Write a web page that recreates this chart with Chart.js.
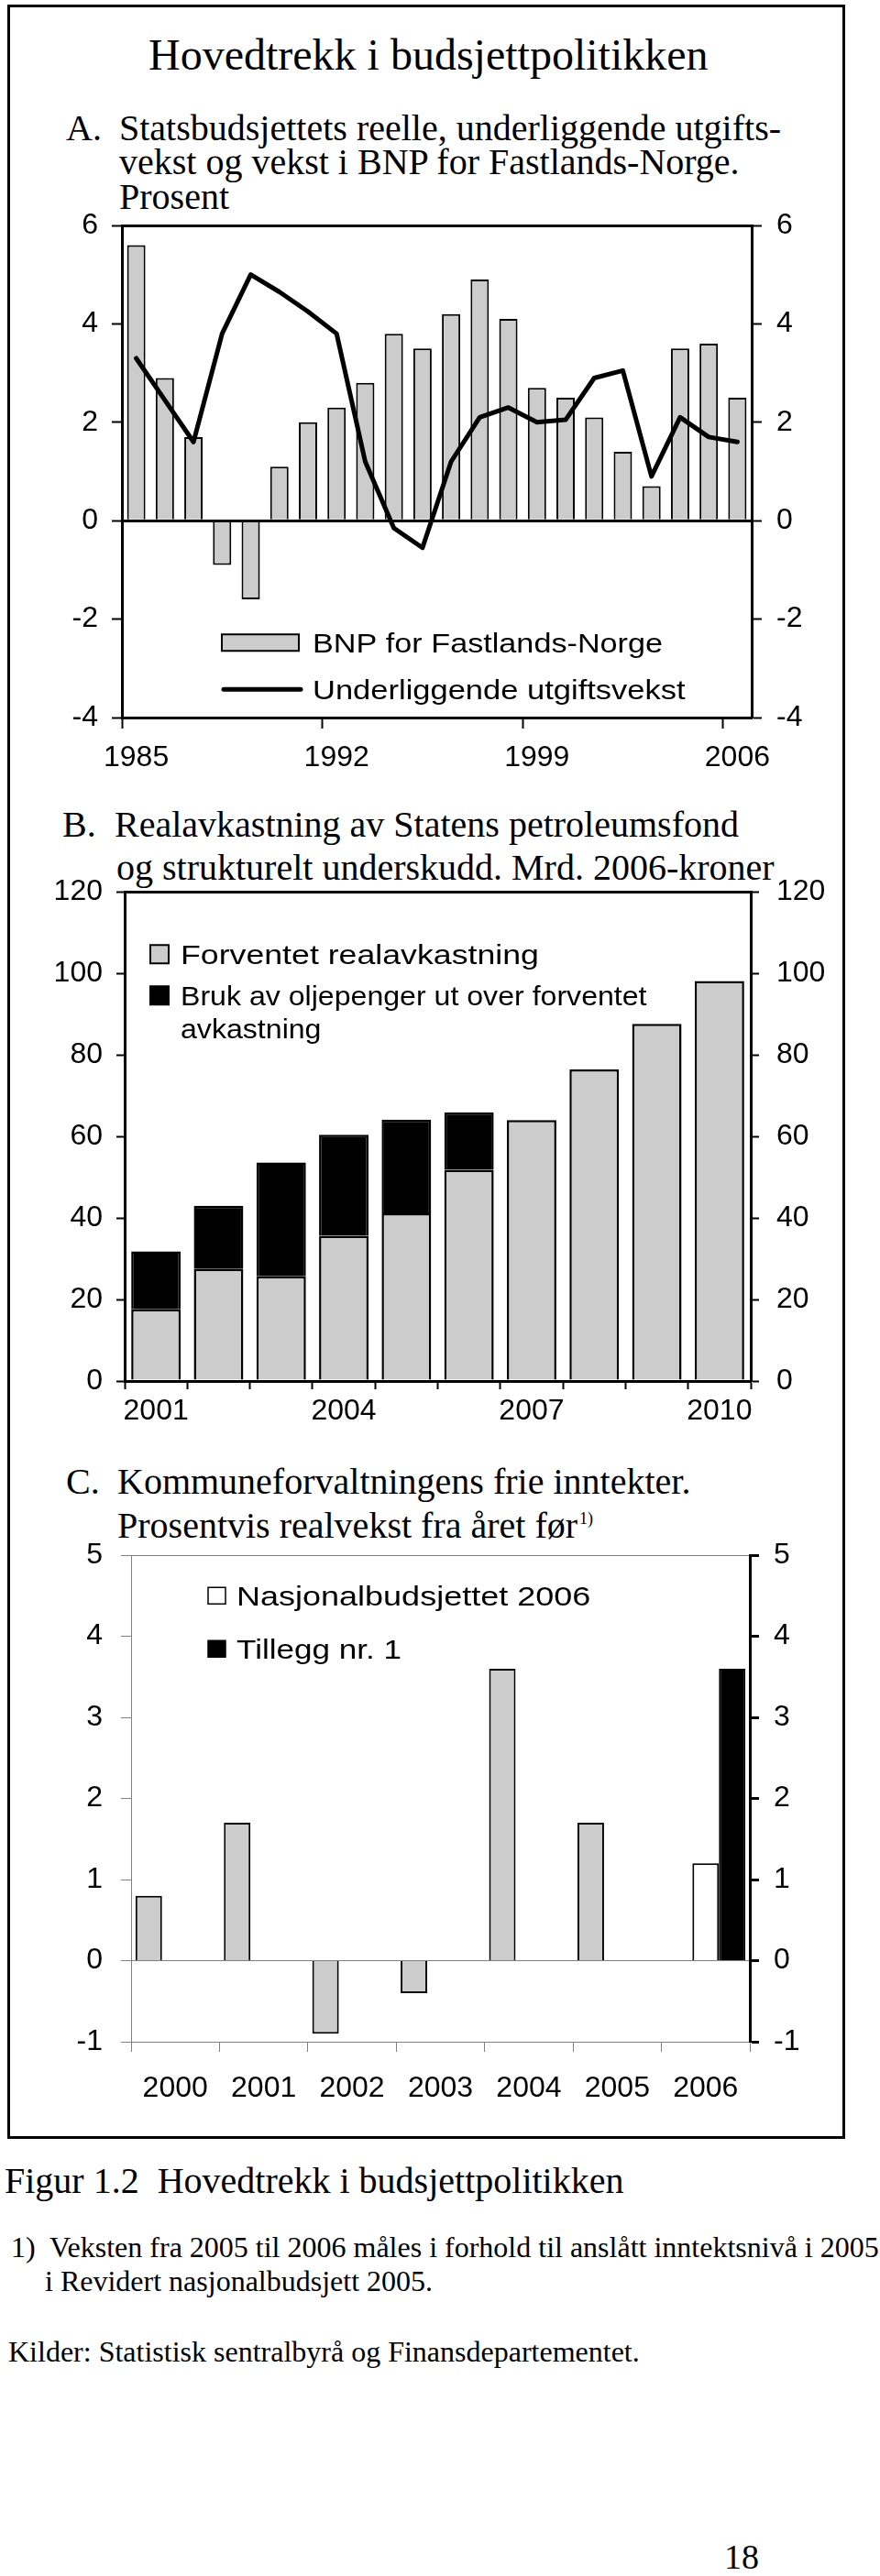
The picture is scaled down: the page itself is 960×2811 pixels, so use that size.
<!DOCTYPE html>
<html lang="no">
<head>
<meta charset="utf-8">
<title>Hovedtrekk i budsjettpolitikken</title>
<script src="https://cdn.jsdelivr.net/npm/chart.js@4.4.1/dist/chart.umd.min.js"></script>
<style>
  body { margin: 0; background: #fff; }
  #page { position: relative; width: 960px; height: 2811px; overflow: hidden; }
  .frame { position: absolute; left: 8px; top: 5px; width: 914px; height: 2329px; border: 3px solid #000; box-sizing: border-box; }
  .t { position: absolute; font-family: 'Liberation Serif', 'Times New Roman', serif; line-height: 1; white-space: nowrap; color: #000; }
  canvas { position: absolute; }
</style>
</head>
<body>
<div id="page">
  <div class="frame"></div>

  <div class="t" style="left:162px;top:36px;font-size:48px">Hovedtrekk i budsjettpolitikken</div>

  <div class="t" style="left:72px;top:119.5px;font-size:40px">A.</div>
  <div class="t" style="left:130px;top:119.5px;font-size:40px">Statsbudsjettets reelle, underliggende utgifts-</div>
  <div class="t" style="left:130px;top:157px;font-size:40px">vekst og vekst i BNP for Fastlands-Norge.</div>
  <div class="t" style="left:130px;top:194.5px;font-size:40px">Prosent</div>
  <canvas id="chartA" width="870" height="659" style="left:30px;top:201px"></canvas>

  <div class="t" style="left:68px;top:879.5px;font-size:40px">B.</div>
  <div class="t" style="left:125px;top:879.5px;font-size:40px">Realavkastning av Statens petroleumsfond</div>
  <div class="t" style="left:127px;top:926.5px;font-size:40px">og strukturelt underskudd. Mrd. 2006-kroner</div>
  <canvas id="chartB" width="870" height="642" style="left:30px;top:928px"></canvas>

  <div class="t" style="left:72px;top:1596.5px;font-size:40px">C.</div>
  <div class="t" style="left:128px;top:1596.5px;font-size:40px">Kommuneforvaltningens frie inntekter.</div>
  <div class="t" style="left:128px;top:1644.5px;font-size:40px">Prosentvis realvekst fra året før<span style="font-size:18px;position:relative;top:-15px;left:2px">1)</span></div>
  <canvas id="chartC" width="870" height="653" style="left:30px;top:1652px"></canvas>

  <div class="t" style="left:5px;top:2359.5px;font-size:40px">Figur 1.2&nbsp; Hovedtrekk i budsjettpolitikken</div>
  <div class="t" style="left:12px;top:2436px;font-size:32px">1)</div>
  <div class="t" style="left:54px;top:2436px;font-size:32px">Veksten fra 2005 til 2006 måles i forhold til anslått inntektsnivå i 2005</div>
  <div class="t" style="left:49px;top:2473px;font-size:32px">i Revidert nasjonalbudsjett 2005.</div>
  <div class="t" style="left:9px;top:2550px;font-size:32px">Kilder: Statistisk sentralbyrå og Finansdepartementet.</div>
  <div class="t" style="left:790px;top:2771px;font-size:38px">18</div>
</div>

<script>
// PANEL A data
var yearsA = ['1985', '1986', '1987', '1988', '1989', '1990', '1991', '1992', '1993', '1994', '1995',
              '1996', '1997', '1998', '1999', '2000', '2001', '2002', '2003', '2004', '2005', '2006'];
var bnpFastland = [5.6, 2.9, 1.7, -0.9, -1.6, 1.1, 2.0, 2.3, 2.8, 3.8, 3.5,
                   4.2, 4.9, 4.1, 2.7, 2.5, 2.1, 1.4, 0.7, 3.5, 3.6, 2.5];
var utgiftsvekst = [3.3, 2.45, 1.6, 3.8, 5.0, 4.65, 4.25, 3.8, 1.2, -0.15, -0.55,
                    1.2, 2.1, 2.3, 2.0, 2.05, 2.9, 3.05, 0.9, 2.1, 1.7, 1.6];

// PANEL B data
var yearsB = ['2001', '2002', '2003', '2004', '2005', '2006', '2007', '2008', '2009', '2010'];
var forventet = [17.6, 27.5, 25.7, 35.6, 41.1, 51.8, 64.0, 76.4, 87.6, 98.1];
var brukUtover = [14.2, 15.5, 27.9, 24.8, 23.0, 14.1, null, null, null, null];

// PANEL C data
var yearsC = ['2000', '2001', '2002', '2003', '2004', '2005', '2006'];
var realvekst = [0.8, 1.7, -0.9, -0.4, 3.6, 1.7, null];
var nasjonalbudsjettet = [null, null, null, null, null, null, 1.2];
var tillegg = [null, null, null, null, null, null, 3.6];

Chart.defaults.color = '#000';
Chart.defaults.font.family = "'Liberation Sans', Arial, sans-serif";
Chart.defaults.font.size = 32;

var GREY = '#cccccc';
var none = 'rgba(0,0,0,0)';
var legendFont = "30px 'Liberation Sans', Arial, sans-serif";

// legend drawn inside the plot area
var insideLegend = {
    id: 'insideLegend',
    afterDraw: function (chart, args, o) {
        if (!o || !o.rows) return;
        var ctx = chart.ctx, a = chart.chartArea;
        var items = chart.data.datasets.filter(function (d) { return d.label; });
        ctx.save();
        ctx.font = o.font;
        ctx.textBaseline = 'alphabetic';
        items.forEach(function (ds, i) {
            var base = a.top + o.rows[i];
            var mid = base - o.capHeight / 2;
            var bx = a.left + o.boxX;
            var sx = o.stretch[i];
            if (ds.type === 'line') {
                ctx.strokeStyle = ds.borderColor;
                ctx.lineWidth = ds.borderWidth;
                ctx.lineCap = 'round';
                ctx.beginPath();
                ctx.moveTo(bx + 2, mid);
                ctx.lineTo(bx + o.boxW + 2, mid);
                ctx.stroke();
            } else {
                ctx.fillStyle = ds.backgroundColor;
                ctx.fillRect(bx, mid - o.boxH / 2, o.boxW, o.boxH);
                ctx.strokeStyle = '#000';
                ctx.lineWidth = o.boxBorder;
                ctx.strokeRect(bx, mid - o.boxH / 2, o.boxW, o.boxH);
            }
            // wrap the label
            var words = ds.label.split(' '), lines = [], cur = '';
            words.forEach(function (w) {
                var test = cur ? cur + ' ' + w : w;
                if (cur && ctx.measureText(test).width * sx > o.maxWidth) {
                    lines.push(cur);
                    cur = w;
                } else {
                    cur = test;
                }
            });
            lines.push(cur);
            ctx.fillStyle = '#000';
            lines.forEach(function (ln, j) {
                ctx.save();
                ctx.translate(a.left + o.textX, base + j * o.lineGap);
                ctx.scale(sx, 1);
                ctx.fillText(ln, 0, 0);
                ctx.restore();
            });
        });
        ctx.restore();
    }
};

//A CHART
var ctxA = document.getElementById('chartA').getContext('2d');
var chartA = new Chart(ctxA, {
    type: 'bar',
    data: {
        labels: yearsA,
        datasets: [{
            type: 'bar',
            label: 'BNP for Fastlands-Norge',
            data: bnpFastland,
            backgroundColor: GREY,
            borderColor: '#000',
            borderWidth: 2,
            categoryPercentage: 0.8,
            barPercentage: 0.8,
            order: 1
        }, {
            type: 'line',
            label: 'Underliggende utgiftsvekst',
            data: utgiftsvekst,
            borderColor: '#000',
            borderWidth: 5,
            pointRadius: 0,
            tension: 0,
            borderJoinStyle: 'round',
            borderCapStyle: 'round',
            order: 0
        }]
    },
    options: {
        responsive: false,
        animation: false,
        devicePixelRatio: 1,
        layout: { padding: { top: 45, left: 0, right: 0, bottom: 0 } },
        plugins: {
            legend: { display: false },
            tooltip: { enabled: false },
            insideLegend: {
                rows: [466, 517], boxX: 109, boxW: 84, boxH: 18, textX: 208,
                font: legendFont, capHeight: 21.5,
                stretch: [1.14, 1.15], lineGap: 0, maxWidth: 2000, boxBorder: 2
            }
        },
        scales: {
            x: {
                offset: true,
                grid: {
                    offset: true, drawOnChartArea: false, drawTicks: true,
                    tickLength: 12, tickWidth: 2,
                    tickColor: function (c) { return c.index % 7 === 0 ? '#000' : none; }
                },
                border: { display: true, color: '#000', width: 3 },
                ticks: {
                    autoSkip: false, maxRotation: 0, padding: 13,
                    callback: function (v, i) { return i % 7 === 0 ? yearsA[i] : ''; }
                },
                afterFit: function (s) { s.height = 77; }
            },
            y: {
                position: 'left', min: -4, max: 6,
                ticks: { stepSize: 2, padding: 15 },
                grid: {
                    color: function (c) { return (c.tick.value === 0 || c.tick.value === 6) ? '#000' : none; },
                    lineWidth: 3, tickColor: '#000', tickWidth: 2, tickLength: 11
                },
                border: { display: true, color: '#000', width: 3 },
                afterFit: function (s) { s.width = 103; }
            },
            y2: {
                position: 'right', min: -4, max: 6,
                ticks: { stepSize: 2, padding: 16 },
                grid: { drawOnChartArea: false, tickColor: '#000', tickWidth: 2, tickLength: 11 },
                border: { display: true, color: '#000', width: 3 },
                afterFit: function (s) { s.width = 80; }
            }
        }
    },
    plugins: [insideLegend]
});

//B CHART
var ctxB = document.getElementById('chartB').getContext('2d');
var chartB = new Chart(ctxB, {
    type: 'bar',
    data: {
        labels: yearsB,
        datasets: [{
            label: 'Forventet realavkastning',
            data: forventet,
            backgroundColor: GREY,
            borderColor: '#000',
            borderWidth: 2.5
        }, {
            label: 'Bruk av oljepenger ut over forventet avkastning',
            data: brukUtover,
            backgroundColor: '#000',
            borderColor: '#000',
            borderWidth: 2.5
        }]
    },
    options: {
        responsive: false,
        animation: false,
        devicePixelRatio: 1,
        categoryPercentage: 0.79,
        barPercentage: 1.0,
        layout: { padding: { top: 45, left: 0, right: 0, bottom: 0 } },
        plugins: {
            legend: { display: false },
            tooltip: { enabled: false },
            insideLegend: {
                rows: [79, 124], boxX: 28, boxW: 20, boxH: 20, textX: 61,
                font: legendFont, capHeight: 21.5,
                stretch: [1.19, 1.07], lineGap: 36, maxWidth: 540, boxBorder: 2
            }
        },
        scales: {
            x: {
                stacked: true,
                offset: true,
                grid: { offset: true, drawOnChartArea: false, tickLength: 9, tickWidth: 2, tickColor: '#000' },
                border: { display: true, color: '#000', width: 3 },
                ticks: {
                    autoSkip: false, maxRotation: 0, padding: 5,
                    callback: function (v, i) { return i % 3 === 0 ? yearsB[i] : ''; }
                },
                afterFit: function (s) { s.height = 63; }
            },
            y: {
                stacked: true, position: 'left', min: 0, max: 120,
                ticks: { stepSize: 20, padding: 15 },
                grid: {
                    color: function (c) { return c.tick.value === 120 ? '#000' : none; },
                    lineWidth: 3, tickColor: '#000', tickWidth: 2, tickLength: 9
                },
                border: { display: true, color: '#000', width: 3 },
                afterFit: function (s) { s.width = 106; }
            },
            y2: {
                position: 'right', min: 0, max: 120,
                ticks: { stepSize: 20, padding: 19 },
                grid: { drawOnChartArea: false, tickColor: '#000', tickWidth: 2, tickLength: 9 },
                border: { display: true, color: '#000', width: 3 },
                afterFit: function (s) { s.width = 81; }
            }
        }
    },
    plugins: [insideLegend]
});

//C CHART
var ctxC = document.getElementById('chartC').getContext('2d');
var chartC = new Chart(ctxC, {
    type: 'bar',
    data: {
        labels: yearsC,
        datasets: [{
            label: '',
            data: realvekst,
            backgroundColor: GREY,
            borderColor: '#000',
            borderWidth: 2
        }, {
            label: 'Nasjonalbudsjettet 2006',
            data: nasjonalbudsjettet,
            backgroundColor: '#ffffff',
            borderColor: '#000',
            borderWidth: 2
        }, {
            label: 'Tillegg nr. 1',
            data: tillegg,
            backgroundColor: '#000',
            borderColor: '#000',
            borderWidth: 2
        }]
    },
    options: {
        responsive: false,
        animation: false,
        devicePixelRatio: 1,
        categoryPercentage: 0.9,
        barPercentage: 1.0,
        layout: { padding: { top: 45, left: 0, right: 0, bottom: 0 } },
        plugins: {
            legend: { display: false },
            tooltip: { enabled: false },
            insideLegend: {
                rows: [55, 113], boxX: 84, boxW: 19, boxH: 18, textX: 115,
                font: legendFont, capHeight: 21.5,
                stretch: [1.2, 1.17], lineGap: 0, maxWidth: 2000, boxBorder: 1.5
            }
        },
        scales: {
            x: {
                offset: true,
                grid: { offset: true, drawOnChartArea: false, tickLength: 11, tickWidth: 1, tickColor: '#808080' },
                border: { display: true, color: '#808080', width: 1 },
                ticks: { autoSkip: false, maxRotation: 0, padding: 21 },
                afterFit: function (s) { s.height = 77; }
            },
            y: {
                position: 'left', min: -1, max: 5,
                ticks: { stepSize: 1, padding: 20 },
                grid: {
                    color: function (c) { return (c.tick.value === 0 || c.tick.value === 5) ? '#808080' : none; },
                    lineWidth: 1, tickColor: '#808080', tickWidth: 1, tickLength: 11
                },
                border: { display: true, color: '#808080', width: 1 },
                afterFit: function (s) { s.width = 113; }
            },
            y2: {
                position: 'right', min: -1, max: 5,
                ticks: { stepSize: 1, padding: 16 },
                grid: { drawOnChartArea: false, tickColor: '#000', tickWidth: 3, tickLength: 10 },
                border: { display: true, color: '#000', width: 3 },
                afterFit: function (s) { s.width = 82; }
            }
        }
    },
    plugins: [insideLegend]
});
</script>
</body>
</html>
